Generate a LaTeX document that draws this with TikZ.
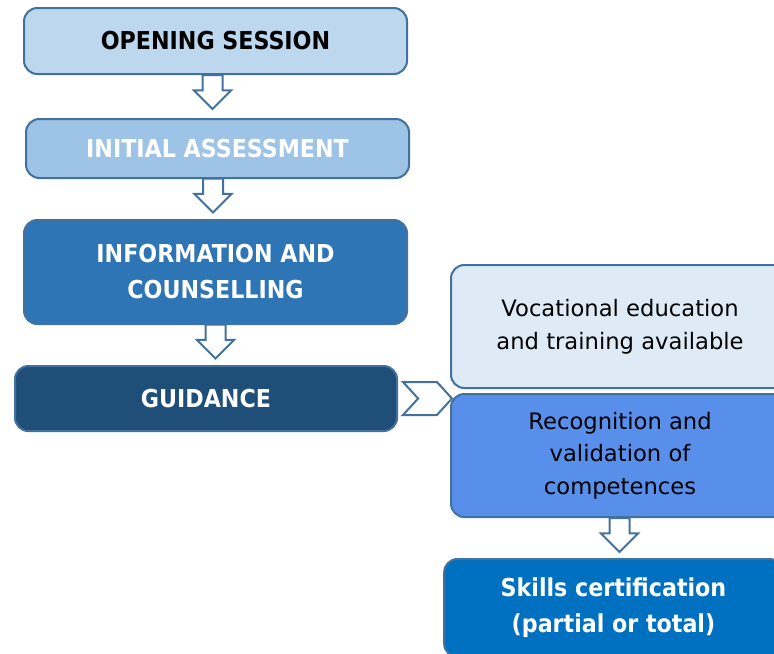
\documentclass[tikz,border=0pt]{standalone}
\usepackage{fontspec}
\setmainfont{DejaVu Sans Condensed}
\newfontfamily\plainfont{DejaVu Sans}
\usepackage{tikz}
\usetikzlibrary{positioning,shapes.arrows,shapes.symbols}
\definecolor{edgeblue}{RGB}{65,113,156}
\definecolor{openfill}{RGB}{189,215,238}
\definecolor{initfill}{RGB}{157,195,230}
\definecolor{infofill}{RGB}{46,117,182}
\definecolor{guidfill}{RGB}{31,78,121}
\definecolor{vocfill}{RGB}{222,235,247}
\definecolor{recogfill}{RGB}{87,143,234}
\definecolor{skillfill}{RGB}{0,112,192}

\begin{document}
\begin{tikzpicture}[x=0.75pt,y=-0.75pt,
    stage/.style={rectangle,rounded corners=10pt,draw=edgeblue,line width=1.5pt,align=center,inner sep=2pt},
    bigtext/.style={font=\fontsize{18.5}{27}\selectfont\bfseries},
    smalltext/.style={font=\plainfont\fontsize{17}{24.5}\selectfont},
    downarrow/.style={single arrow,draw=edgeblue,fill=white,line width=1.5pt,shape border rotate=270,
        inner xsep=6.75pt,inner ysep=0pt,minimum width=0pt,minimum height=25.5pt,
        single arrow head extend=6.4pt,single arrow tip angle=90},
    sidearrow/.style={signal,signal from=west,signal to=east,draw=edgeblue,fill=white,line width=1.5pt,
        inner sep=0pt,minimum width=36.75pt,minimum height=24.75pt,signal pointer angle=95}]

    \useasboundingbox (0,0) rectangle (774,653);
    \clip (0,0) rectangle (774,653);

    % left column
    \node[stage,bigtext,fill=openfill,minimum width=287.25pt,minimum height=49.5pt] (open) at (215.5,41) {OPENING SESSION};
    \node[stage,bigtext,fill=initfill,text=white,minimum width=287.25pt,minimum height=44.25pt] (init) at (217.5,148.5) {INITIAL ASSESSMENT};
    \node[stage,bigtext,fill=infofill,text=white,minimum width=287.25pt,minimum height=78pt] (info) at (215.5,272) {INFORMATION AND\\COUNSELLING};
    \node[stage,bigtext,fill=guidfill,text=white,minimum width=286.5pt,minimum height=48.75pt] (guid) at (206,398.5) {GUIDANCE};

    % right column
    \node[stage,smalltext,fill=vocfill,minimum width=253.5pt,minimum height=92.25pt] (voc) at (620,326.5) {Vocational education\\and training available};
    \node[stage,smalltext,fill=recogfill,minimum width=253.5pt,minimum height=92.25pt] (recog) at (620,455.5) {Recognition and\\validation of\\competences};
    \node[stage,bigtext,fill=skillfill,text=white,minimum width=254pt,minimum height=73.5pt] (skill) at (613.5,608) {Skills certification\\(partial or total)};

    % arrows
    \node[downarrow] (a1) at (212.5,87) {};
    \node[downarrow] (a2) at (213,190.5) {};
    \node[downarrow] (a3) at (215.5,336.5) {};
    \node[downarrow] (a4) at (619.5,530) {};
    \node[sidearrow] (a5) at (427.5,398.5) {};

\end{tikzpicture}
\end{document}
